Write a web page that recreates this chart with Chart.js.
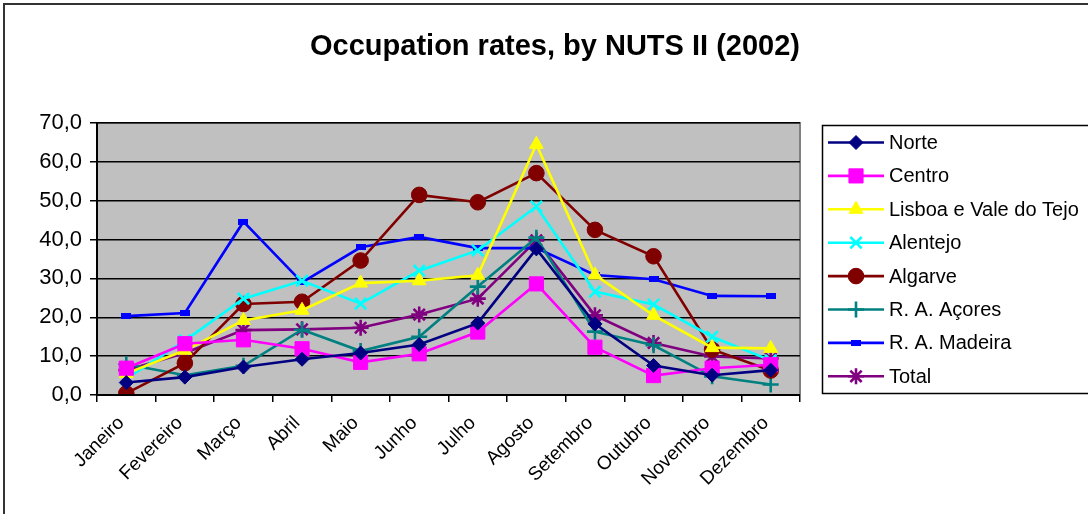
<!DOCTYPE html>
<html>
<head>
<meta charset="utf-8">
<script src="https://cdn.jsdelivr.net/npm/chart.js@4/dist/chart.umd.min.js"></script>
<style>
html,body{margin:0;padding:0;background:#fff;}
#wrap{position:relative;width:1088px;height:514px;}
</style>
</head>
<body>
<div id="wrap"><canvas id="c" width="1088" height="514"></canvas></div>
<script>
const titleText = "Occupation rates, by NUTS II (2002)";
const months = ["Janeiro","Fevereiro","Março","Abril","Maio","Junho","Julho","Agosto","Setembro","Outubro","Novembro","Dezembro"];
const yTicks = [0,10,20,30,40,50,60,70];

const norte    = [3.2, 4.6, 7.2, 9.2, 10.8, 13.0, 18.5, 37.6, 18.3, 7.6, 5.1, 6.4];
const centro   = [6.9, 13.2, 14.2, 11.9, 8.4, 10.6, 16.2, 28.6, 12.3, 5.0, 6.9, 7.8];
const lisboa   = [5.5, 11.5, 19.2, 21.8, 28.8, 29.4, 30.8, 64.5, 30.9, 20.5, 12.2, 12.0];
const alentejo = [4.2, 14.0, 24.8, 29.4, 23.5, 32.0, 37.2, 48.5, 26.6, 23.3, 15.0, 8.9];
const algarve  = [0.4, 8.2, 23.4, 24.0, 34.6, 51.5, 49.6, 57.1, 42.5, 35.7, 11.7, 6.3];
const acores   = [7.9, 5.1, 7.5, 16.8, 11.3, 15.0, 27.9, 40.5, 16.3, 12.8, 4.8, 2.7];
const madeira  = [20.3, 21.1, 44.6, 29.0, 38.0, 40.7, 37.8, 37.8, 30.9, 29.8, 25.5, 25.4];
const total    = [6.4, 10.8, 16.7, 16.9, 17.3, 20.7, 24.8, 39.8, 20.5, 13.4, 9.9, 9.4];

const seriesNames = ["Norte","Centro","Lisboa e Vale do Tejo","Alentejo","Algarve","R. A. Açores","R. A. Madeira","Total"];

const FONT = '"Liberation Sans", Arial, sans-serif';

// small bar marker for Madeira
const barMark = document.createElement('canvas');
barMark.width = 10; barMark.height = 6;
(function(){const g = barMark.getContext('2d'); g.fillStyle = '#0000FF'; g.fillRect(0,0,10,6);})();

function ds(label, data, color, style, radius, bw){
  return {label, data, borderColor: color, backgroundColor: color,
    pointStyle: style, pointRadius: radius, pointHoverRadius: radius,
    pointBorderWidth: bw, pointBackgroundColor: color, pointBorderColor: color,
    borderWidth: 2.6, tension: 0, fill: false};
}

const datasets = [
  ds(seriesNames[0], norte,    '#000080', 'rectRot', 7, 1),
  ds(seriesNames[1], centro,   '#FF00FF', 'rect', 10, 1),
  ds(seriesNames[2], lisboa,   '#FFFF00', 'triangle', 8, 1),
  ds(seriesNames[3], alentejo, '#00FFFF', 'crossRot', 8, 2.6),
  ds(seriesNames[4], algarve,  '#800000', 'circle', 7.8, 1),
  ds(seriesNames[5], acores,   '#008080', 'cross', 8, 2.6),
  ds(seriesNames[6], madeira,  '#0000FF', barMark, 5, 1),
  ds(seriesNames[7], total,    '#800080', 'star', 8, 2.6)
];

const decor = {
  id: 'decor',
  beforeDraw(chart){
    const ctx = chart.ctx, a = chart.chartArea;
    ctx.save();
    ctx.strokeStyle = '#333'; ctx.lineWidth = 2;
    ctx.beginPath(); ctx.moveTo(4, 514); ctx.lineTo(4, 4); ctx.lineTo(1088, 4); ctx.stroke();
    ctx.fillStyle = '#C0C0C0';
    ctx.fillRect(a.left, a.top, a.right - a.left, a.bottom - a.top);
    ctx.strokeStyle = '#808080'; ctx.lineWidth = 2;
    ctx.beginPath(); ctx.moveTo(a.left, a.top); ctx.lineTo(a.right, a.top); ctx.lineTo(a.right, a.bottom); ctx.stroke();
    ctx.fillStyle = '#000';
    ctx.font = 'bold 29px ' + FONT;
    ctx.textAlign = 'center'; ctx.textBaseline = 'alphabetic';
    ctx.fillText(titleText, 555, 55);
    ctx.restore();
  },
  afterDraw(chart){
    const ctx = chart.ctx, a = chart.chartArea;
    ctx.save();
    ctx.strokeStyle = '#000'; ctx.lineWidth = 2;
    ctx.beginPath(); ctx.moveTo(a.left, a.top); ctx.lineTo(a.left, a.bottom); ctx.lineTo(a.right, a.bottom); ctx.stroke();
    ctx.strokeStyle = '#000'; ctx.lineWidth = 1.5;
    ctx.fillStyle = '#fff';
    ctx.fillRect(822, 125, 270, 268);
    ctx.strokeRect(822.5, 125.5, 270, 268);
    ctx.font = '20px ' + FONT;
    ctx.textAlign = 'left'; ctx.textBaseline = 'middle';
    chart.data.datasets.forEach((d, i) => {
      const y = 142.5 + i * 33.4;
      ctx.strokeStyle = d.borderColor; ctx.lineWidth = 2.6;
      ctx.beginPath(); ctx.moveTo(828, y); ctx.lineTo(884, y); ctx.stroke();
      ctx.fillStyle = d.pointBackgroundColor; ctx.strokeStyle = d.pointBorderColor;
      ctx.lineWidth = d.pointBorderWidth;
      Chart.helpers.drawPoint(ctx, {pointStyle: d.pointStyle, radius: d.pointRadius, rotation: 0, borderWidth: d.pointBorderWidth}, 856, y);
      ctx.fillStyle = '#000';
      ctx.fillText(d.label, 889, y + 1);
    });
    ctx.restore();
  }
};

new Chart(document.getElementById('c'), {
  type: 'line',
  data: { labels: months, datasets },
  options: {
    responsive: false,
    animation: false,
    devicePixelRatio: 1,
    layout: { padding: { left: 0, top: 123, right: 288, bottom: 0 } },
    plugins: { legend: { display: false }, title: { display: false }, tooltip: { enabled: false } },
    scales: {
      x: {
        offset: true,
        grid: { display: true, drawOnChartArea: false, drawTicks: true, tickLength: 7, color: '#000', lineWidth: 1.5, offset: true },
        border: { display: false },
        ticks: { color: '#000', font: { family: FONT, size: 19 }, maxRotation: 45, minRotation: 45, autoSkip: false, padding: 10, labelOffset: -5 },
        afterFit(s){ s.height = 119; }
      },
      y: {
        min: 0, max: 70,
        afterBuildTicks(s){ s.ticks = yTicks.map(v => ({value: v})); },
        grid: { color: '#000', lineWidth: 1.5, tickLength: 7, drawTicks: true },
        border: { display: false },
        ticks: { color: '#000', font: { family: FONT, size: 22 }, padding: 8,
          callback: v => v.toFixed(1).replace('.', ',') },
        afterFit(s){ s.width = 97; }
      }
    }
  },
  plugins: [decor]
});
</script>
</body>
</html>
